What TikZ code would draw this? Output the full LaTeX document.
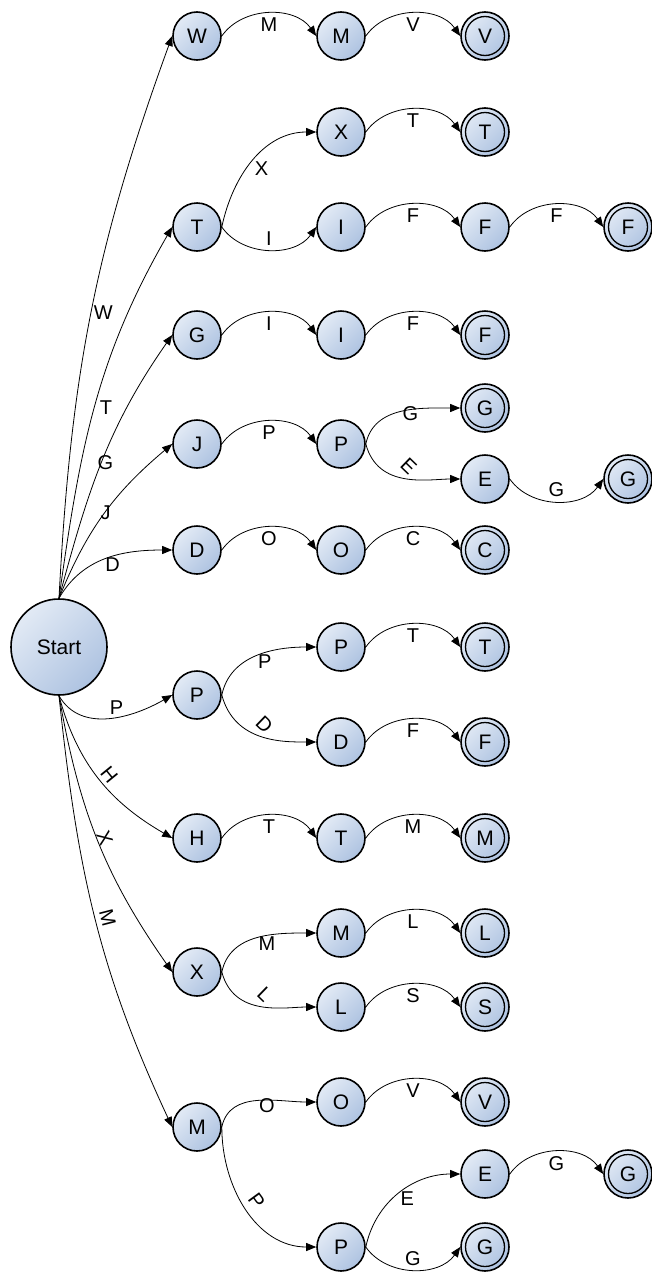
\documentclass[tikz,border=0pt]{standalone}
\usepackage{fontspec}
\setmainfont{Liberation Sans}
\usetikzlibrary{arrows.meta}
\definecolor{nodelight}{HTML}{E2EAF5}
\definecolor{nodedark}{HTML}{AEC3E1}
\begin{document}
\begin{tikzpicture}[x=1pt,y=1pt,
  state/.style={circle, draw=black, line width=1.6pt, minimum size=48pt, inner sep=0pt,
    top color=nodelight, bottom color=nodedark, shading angle=45,
    font=\fontsize{21}{24}\selectfont},
  accept/.style={state, path picture={\draw[line width=1.3pt] (path picture bounding box.center) circle (19.5pt);}},
  startstate/.style={state, minimum size=96pt},
  edge/.style={draw=black, line width=0.8pt, -{Triangle[length=10pt,width=8pt]}},
  lbl/.style={font=\fontsize{20}{22}\selectfont, inner sep=1pt},
  arcup/.style={out=55,in=125},
  arcdown/.style={out=-55,in=-125},
  brup/.style={out=78,in=180},
  brdown/.style={out=-75,in=180,out looseness=1.2,in looseness=0.8},
  uplbl/.style={lbl,pos=0.5,anchor=north west,yshift=3pt},
  downlbl/.style={lbl,pos=0.5,xshift=3pt,yshift=12pt,rotate=-44},
]
\useasboundingbox (0,0) rectangle (652,-1277);

% nodes
\node[startstate] (S) at (59,-647) {Start};
\node[state] (W1) at (197,-36) {W};
\node[state] (M1) at (341,-36) {M};
\node[accept] (V1) at (485,-36) {V};
\node[state] (T2) at (197,-227) {T};
\node[state] (X2) at (341,-132) {X};
\node[accept] (T2a) at (485,-132) {T};
\node[state] (I2) at (341,-227) {I};
\node[state] (F2) at (485,-227) {F};
\node[accept] (F2a) at (628,-227) {F};
\node[state] (G3) at (197,-335) {G};
\node[state] (I3) at (341,-335) {I};
\node[accept] (F3) at (485,-335) {F};
\node[state] (J4) at (197,-444) {J};
\node[state] (P4) at (341,-444) {P};
\node[accept] (G4) at (485,-408) {G};
\node[state] (E4) at (485,-479) {E};
\node[accept] (G4b) at (628,-479) {G};
\node[state] (D5) at (197,-550) {D};
\node[state] (O5) at (341,-550) {O};
\node[accept] (C5) at (485,-550) {C};
\node[state] (P6) at (197,-695) {P};
\node[state] (P6a) at (341,-647) {P};
\node[accept] (T6) at (485,-647) {T};
\node[state] (D6) at (341,-742) {D};
\node[accept] (F6) at (485,-742) {F};
\node[state] (H7) at (197,-838) {H};
\node[state] (T7) at (341,-838) {T};
\node[accept] (M7) at (485,-838) {M};
\node[state] (X8) at (197,-972) {X};
\node[state] (M8) at (341,-933) {M};
\node[accept] (L8) at (485,-933) {L};
\node[state] (L8b) at (341,-1007) {L};
\node[accept] (S8) at (485,-1007) {S};
\node[state] (M9) at (197,-1127) {M};
\node[state] (O9) at (341,-1102) {O};
\node[accept] (V9) at (485,-1102) {V};
\node[state] (P9) at (341,-1247) {P};
\node[state] (E9) at (485,-1174) {E};
\node[accept] (G9) at (628,-1174) {G};
\node[accept] (G9b) at (485,-1247) {G};

% edges from Start (upward)
\draw[edge] (S.north) to[out=87,in=-110] node[lbl,pos=0.5,xshift=12pt]{W} (W1.west);
\draw[edge] (S.north) to[out=82,in=-120] node[lbl,pos=0.5,xshift=11pt,yshift=-2pt]{T} (T2.west);
\draw[edge] (S.north) to[out=75,in=-125] node[lbl,pos=0.5,xshift=3pt,yshift=-2pt]{G} (G3.west);
\draw[edge] (S.north) to[out=68,in=-140] node[lbl,pos=0.5,xshift=1pt]{J} (J4.west);
\draw[edge] (S.north) to[out=60,in=180] node[lbl,pos=0.5,xshift=6pt,yshift=-6pt]{D} (D5.west);
% edges from Start (downward)
\draw[edge] (S.south) to[out=-60,in=-150] node[lbl,pos=0.5,above=2pt,xshift=7pt]{P} (P6.west);
\draw[edge] (S.south) to[out=-75,in=150] node[lbl,pos=0.5,sloped,above=2pt,xshift=3pt]{H} (H7.west);
\draw[edge] (S.south) to[out=-80,in=125] node[lbl,pos=0.5,sloped,above=-1pt]{X} (X8.west);
\draw[edge] (S.south) to[out=-84,in=115] node[lbl,pos=0.51,sloped,above=4pt]{M} (M9.west);

% same-row arcs
\draw[edge] (W1.east) to[arcup] node[lbl,below=3pt]{M} (M1.west);
\draw[edge] (M1.east) to[arcup] node[lbl,below=3pt]{V} (V1.west);
\draw[edge] (X2.east) to[arcup] node[lbl,below=3pt]{T} (T2a.west);
\draw[edge] (T2.east) to[arcdown] node[lbl,above=3pt]{I} (I2.west);
\draw[edge] (I2.east) to[arcup] node[lbl,below=3pt]{F} (F2.west);
\draw[edge] (F2.east) to[arcup] node[lbl,below=3pt]{F} (F2a.west);
\draw[edge] (G3.east) to[arcup] node[lbl,below=3pt]{I} (I3.west);
\draw[edge] (I3.east) to[arcup] node[lbl,below=3pt]{F} (F3.west);
\draw[edge] (J4.east) to[arcup] node[lbl,below=3pt]{P} (P4.west);
\draw[edge] (E4.east) to[arcdown] node[lbl,above=3pt]{G} (G4b.west);
\draw[edge] (D5.east) to[arcup] node[lbl,below=3pt]{O} (O5.west);
\draw[edge] (O5.east) to[arcup] node[lbl,below=3pt]{C} (C5.west);
\draw[edge] (P6a.east) to[arcup] node[lbl,below=3pt]{T} (T6.west);
\draw[edge] (D6.east) to[arcup] node[lbl,below=3pt]{F} (F6.west);
\draw[edge] (H7.east) to[arcup] node[lbl,below=3pt]{T} (T7.west);
\draw[edge] (T7.east) to[arcup] node[lbl,below=3pt]{M} (M7.west);
\draw[edge] (M8.east) to[arcup] node[lbl,below=3pt]{L} (L8.west);
\draw[edge] (L8b.east) to[arcup] node[lbl,below=3pt]{S} (S8.west);
\draw[edge] (O9.east) to[arcup] node[lbl,below=3pt]{V} (V9.west);
\draw[edge] (E9.east) to[arcup] node[lbl,below=3pt]{G} (G9.west);
\draw[edge] (P9.east) to[arcdown] node[lbl,above=3pt]{G} (G9b.west);

% branch curves
\draw[edge] (T2.east) to[brup] node[uplbl,yshift=-3pt]{X} (X2.west);
\draw[edge] (P4.east) to[brup] node[uplbl,yshift=3pt]{G} (G4.west);
\draw[edge] (P4.east) to[brdown] node[downlbl]{E} (E4.west);
\draw[edge] (P6.east) to[brup] node[uplbl]{P} (P6a.west);
\draw[edge] (P6.east) to[brdown] node[downlbl]{D} (D6.west);
\draw[edge] (X8.east) to[brup] node[uplbl]{M} (M8.west);
\draw[edge] (X8.east) to[brdown] node[downlbl]{L} (L8b.west);
\draw[edge] (M9.east) to[brup] node[uplbl]{O} (O9.west);
\draw[edge] (M9.east) to[out=-90,in=180] node[lbl,pos=0.5,xshift=10pt,yshift=9pt,rotate=-54]{P} (P9.west);
\draw[edge] (P9.east) to[brup] node[uplbl]{E} (E9.west);
\end{tikzpicture}
\end{document}
